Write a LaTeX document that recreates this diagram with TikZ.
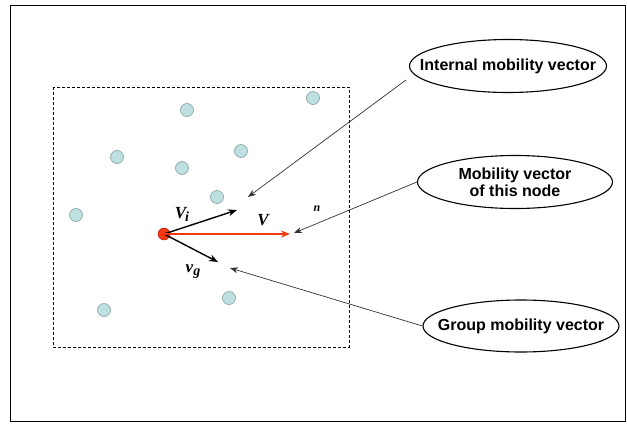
\documentclass[tikz,border=0pt]{standalone}
\usepackage{fontspec}
\setmainfont{Liberation Sans}
\newfontfamily\tms{Liberation Serif}
\usetikzlibrary{shapes.geometric,arrows.meta,calc}
\definecolor{dotfill}{HTML}{BEE0E0}
\definecolor{dotline}{HTML}{8FA8A8}
\definecolor{redv}{HTML}{F03A10}
\begin{document}
\begin{tikzpicture}[x=1pt,y=-1pt,
  dot/.style={circle,draw=dotline,line width=0.7pt,fill=dotfill,minimum size=13pt,inner sep=0pt},
  bubble/.style={ellipse,draw,line width=1.1pt,inner sep=0pt},
  btext/.style={font=\fontsize{16}{17}\selectfont\bfseries,align=center,inner sep=0pt},
  ptr/.style={draw=black!80,line width=0.7pt,-{Stealth[length=8pt,width=6pt]}},
  vec/.style={line width=1.4pt,-{Stealth[length=9pt,width=7pt]}},
  lab/.style={font=\tms\bfseries\itshape\fontsize{17}{19}\selectfont,inner sep=0pt}]
\useasboundingbox (0,0) rectangle (627,424);
\draw[line width=1pt] (10,5) rectangle (625,421);
\draw[densely dashed,line width=0.9pt] (53,87) rectangle (349,347);
\foreach \n/\p in {a/{(313,98)},b/{(187,110)},c/{(117,157)},d/{(241,151)},e/{(182,168)},f/{(217,197)},g/{(76,215)},h/{(229,298)},k/{(104,310)}}
  \node[dot] (\n) at \p {};
\node[circle,fill=redv,draw=red!70!black,minimum size=12pt,inner sep=0pt] (o) at (164,234) {};
\coordinate (vi) at (237,210);
\coordinate (vg) at (218,262);
\coordinate (vv) at (290,234);
\draw[vec] (o.center) -- (vi);
\draw[vec] (o.center) -- (vg);
\draw[vec,line width=1.6pt,draw=redv,fill=redv] (o.center) -- (vv);
\node[lab] (lvi) at (182,214) {V\kern-1pt\raisebox{-3pt}{\fontsize{14}{16}\selectfont i}};
\node[lab] (lv) at (263,220) {V};
\node[lab,font=\tms\bfseries\itshape\fontsize{12}{14}\selectfont] (ln) at (317,209) {n};
\node[lab] (lvg) at (193,272) {v\raisebox{-3pt}{\fontsize{14}{16}\selectfont g}};
\node[bubble,minimum width=197pt,minimum height=53pt] (b1) at (508,66) {};
\node[btext] (t1) at (b1.center) {Internal mobility vector};
\node[bubble,minimum width=195pt,minimum height=53pt] (b2) at (515,182) {};
\node[btext] (t2) at (b2.center) {Mobility vector\\of this node};
\node[bubble,minimum width=196pt,minimum height=52pt] (b3) at (521,326) {};
\node[btext] (t3) at (b3.center) {Group mobility vector};
\coordinate (e1) at (248,197);
\coordinate (e2) at (294,233);
\coordinate (e3) at (230,268);
\draw[ptr] ($(b1.west)+(-3,14)$) -- (e1);
\draw[ptr] (b2.west) -- (e2);
\draw[ptr] (b3.west) -- (e3);
\end{tikzpicture}
\end{document}
